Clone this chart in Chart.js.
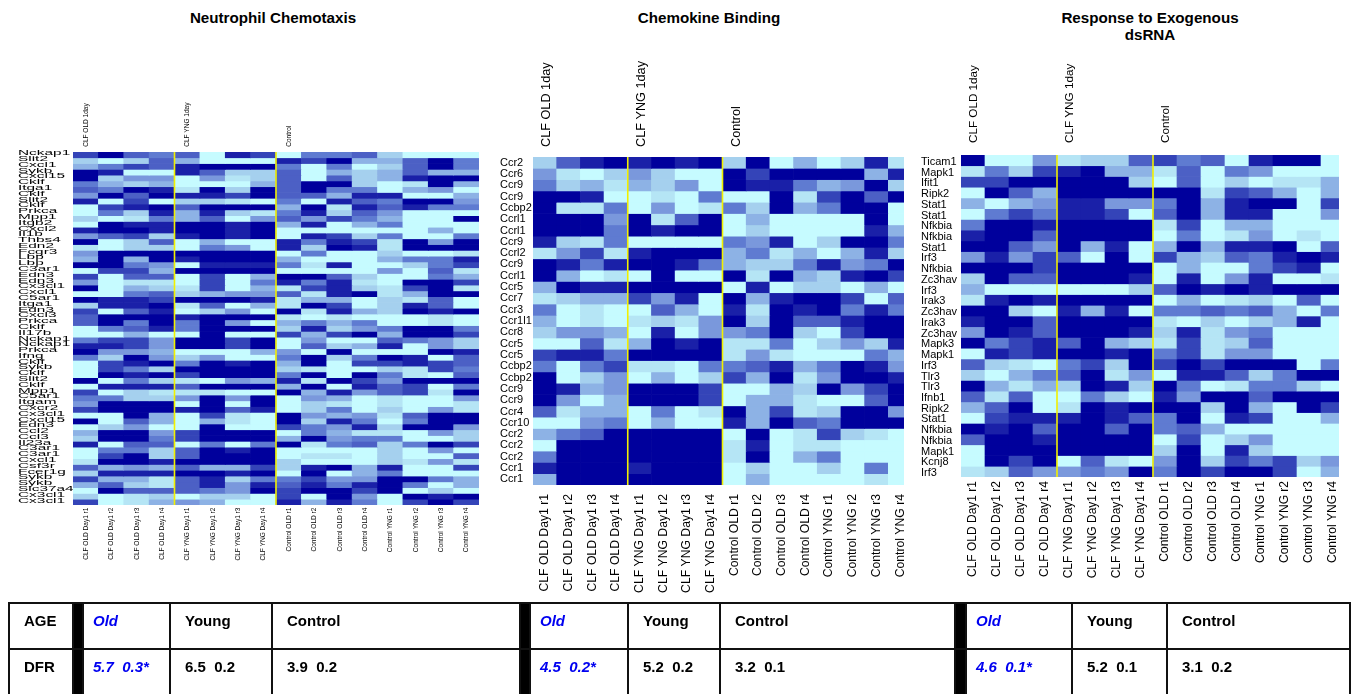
<!DOCTYPE html>
<html>
<head>
<meta charset="utf-8">
<script src="https://cdn.jsdelivr.net/npm/chart.js@4"></script>
<style>
html,body{margin:0;padding:0;background:#fff;width:1355px;height:694px;overflow:hidden;font-family:"Liberation Sans",Arial,sans-serif}
.wrap{position:absolute;overflow:hidden}
canvas{display:block;filter:blur(0.35px)}
.title{position:absolute;font:bold 15.2px/17px "Liberation Sans",Arial,sans-serif;color:#000;text-align:center;width:320px}
table{position:absolute;left:8px;top:602px;border-collapse:collapse;table-layout:fixed;width:1342px;font:bold 15px "Liberation Sans",Arial,sans-serif;color:#000;filter:blur(0.3px)}
td{border:2px solid #111;vertical-align:top;padding:8px 0 0 14px;height:36px;box-sizing:content-box;white-space:pre}
tr:last-child td{border-bottom:2px solid #aaa}
td.bar{background:#000;padding:0}
td.old{color:#0000f0;font-style:italic;padding-left:9px}
</style>
</head>
<body>
<div class="title" style="left:113px;top:9px">Neutrophil Chemotaxis</div>
<div class="title" style="left:549px;top:9px">Chemokine Binding</div>
<div class="title" style="left:990px;top:9px">Response to Exogenous<br>dsRNA</div>
<div class="wrap" style="left:18px;top:90px;width:464px;height:485px"><canvas id="c1" width="464" height="485"></canvas></div>
<div class="wrap" style="left:500px;top:50px;width:404px;height:545px"><canvas id="c2" width="412" height="545"></canvas></div>
<div class="wrap" style="left:921px;top:50px;width:418px;height:540px"><canvas id="c3" width="424" height="540"></canvas></div>
<table id="stats"></table>
<script>
const sampleLabels = ['CLF OLD Day1 r1','CLF OLD Day1 r2','CLF OLD Day1 r3','CLF OLD Day1 r4','CLF YNG Day1 r1','CLF YNG Day1 r2','CLF YNG Day1 r3','CLF YNG Day1 r4','Control OLD r1','Control OLD r2','Control OLD r3','Control OLD r4','Control YNG r1','Control YNG r2','Control YNG r3','Control YNG r4'];
const groupLabels = ['CLF OLD 1day','','','','CLF YNG 1day','','','','Control','','','','','','',''];
const groupBreaks = [4, 8];
const heatColors = ['#c6fbff','#b5e5f5','#a5d0ee','#8db2e5','#7a98dc','#5f7bd1','#4c60c5','#3444b8','#1a20a8','#00009c'];

const neutrophilGenes = ['Nckap1','Slit2','Cxcl1','Sykb','Cxcl15','Cklf','Itga1','Cklf','Slit2','Cklf','Prkca','Mpp1','Itgb2','Cxcl2','Il1b','Thbs4','Edn2','Fcgr3','Lbp','Lbp','C3ar1','Edn3','Edn3','Cx3cl1','Cxcl1','C5ar1','Itga1','Edn3','Cxcl3','Prkca','Cklf','Il17b','Nckap1','Nckap1','Prkca','Ifng','Cklf','Sykb','Cklf','Slit2','Cklf','Mpp1','C5ar1','Itgam','Cxcr2','Cx3cl1','Cxcl15','Edn3','Ccl2','Ccl3','Il23a','C3ar1','C3ar1','Cxcl1','Csf3r','Fcer1g','Sykb','Sykb','Slc37a4','Cx3cl1','Cx3cl1'];
const neutrophilValues = [
[7,9,6,5,6,0,8,7,0,5,5,6,2,0,0,0],
[2,0,2,6,3,0,0,0,8,7,9,3,3,6,9,5],
[3,5,7,6,8,9,9,9,5,0,5,0,2,6,9,5],
[9,8,0,0,8,6,2,2,6,0,3,2,3,6,3,3],
[9,2,4,4,0,4,1,2,6,0,6,2,3,8,9,9],
[5,3,2,3,0,0,0,3,6,9,9,2,0,1,9,3],
[6,5,9,8,1,9,2,9,6,9,5,5,0,3,4,0],
[4,9,6,9,8,8,7,9,6,6,3,8,8,0,0,3],
[8,0,7,0,2,2,1,0,5,0,8,6,5,9,9,4],
[0,7,8,9,6,9,9,9,3,9,1,8,6,8,5,5],
[0,5,2,8,3,8,2,1,5,8,2,6,4,0,0,0],
[2,0,1,5,3,6,0,4,6,4,7,5,3,0,0,9],
[0,9,8,8,9,9,8,9,3,8,0,3,5,0,0,0],
[8,9,9,8,9,9,8,9,0,0,0,0,0,0,3,0],
[4,6,7,2,8,9,8,9,0,8,7,2,5,0,0,5],
[9,0,2,6,0,3,0,0,8,5,8,7,1,9,4,9],
[1,0,2,2,0,5,4,0,8,2,9,8,1,9,9,9],
[4,9,9,9,9,9,9,9,0,5,0,0,2,0,0,1],
[3,9,3,9,8,9,9,9,3,0,0,0,3,5,5,8],
[9,9,5,4,0,8,8,8,5,1,8,0,0,2,5,7],
[0,7,7,3,9,9,9,9,0,0,0,0,4,0,6,1],
[7,0,6,6,0,7,0,3,9,9,6,2,0,0,5,3],
[4,0,1,1,0,7,0,5,8,5,8,1,0,9,9,7],
[9,0,3,2,1,7,0,3,1,7,8,2,1,7,9,1],
[0,0,5,6,2,3,4,4,6,1,8,9,1,3,9,9],
[9,8,8,7,9,9,9,8,1,3,3,0,2,1,6,0],
[2,8,8,9,1,6,0,3,1,9,7,0,2,8,6,0],
[7,0,6,8,0,2,4,0,9,1,8,3,2,9,8,9],
[6,9,9,9,8,9,9,9,1,0,1,0,0,0,1,0],
[6,9,5,9,5,9,4,0,3,5,3,5,0,0,1,0],
[0,5,6,8,5,9,9,9,2,8,2,4,5,9,9,5],
[0,0,3,0,0,9,0,0,7,3,7,9,3,9,9,7],
[5,7,7,4,9,9,7,9,0,4,0,0,6,5,4,2],
[8,8,7,4,9,9,7,9,0,6,2,3,8,0,4,2],
[9,4,4,3,0,0,0,3,4,0,9,0,0,0,9,8],
[5,2,9,4,2,4,0,0,5,9,2,5,9,8,0,6],
[0,7,8,9,5,9,8,9,3,9,0,7,7,8,7,6],
[0,7,5,2,9,9,9,9,2,1,0,0,2,1,7,5],
[0,9,8,9,7,9,9,9,5,9,0,9,5,1,0,6],
[9,0,5,2,1,0,4,3,8,1,9,7,4,9,9,9],
[0,8,8,8,6,9,9,9,3,9,0,8,6,7,0,5],
[7,0,2,1,1,1,0,0,9,3,8,4,6,7,1,9],
[5,5,2,2,4,9,4,9,0,4,3,0,1,0,0,4],
[4,9,9,9,0,9,0,9,0,2,1,0,1,0,0,1],
[7,9,9,9,8,9,6,8,0,2,5,0,2,0,4,1],
[0,0,9,3,0,7,1,0,9,4,3,4,1,6,9,9],
[9,0,6,3,0,3,1,0,9,2,8,5,0,5,9,9],
[0,2,4,0,0,9,0,0,7,5,4,8,2,9,9,4],
[3,9,9,4,7,9,9,9,0,5,3,1,1,0,4,2],
[2,9,9,5,7,9,9,9,3,9,4,5,5,0,0,2],
[8,0,6,6,0,5,0,5,9,1,5,6,2,5,9,7],
[0,5,5,2,6,9,8,9,0,0,0,0,2,0,4,0],
[0,7,9,2,6,9,9,9,0,1,1,0,2,0,0,6],
[1,9,9,8,9,9,9,9,2,0,0,0,2,1,4,1],
[6,3,4,3,6,3,3,7,2,8,9,3,8,0,0,7],
[2,8,8,8,9,9,8,9,0,9,0,3,5,0,0,0],
[7,3,3,1,6,8,2,5,5,7,4,4,9,9,5,3],
[3,6,2,1,6,8,4,8,6,8,5,8,9,5,0,3],
[0,9,6,6,6,5,4,9,7,9,9,7,9,0,2,0],
[2,0,1,2,0,2,2,0,7,0,9,4,0,9,8,9],
[7,0,1,3,4,3,0,0,8,3,8,5,0,7,9,7]
];

const chemokineGenes = ['Ccr2','Ccr6','Ccr9','Ccr9','Ccbp2','Ccrl1','Ccrl1','Ccr9','Ccrl2','Ccr9','Ccrl1','Ccr5','Ccr7','Ccr3','Ccr1l1','Ccr8','Ccr5','Ccr5','Ccbp2','Ccbp2','Ccr9','Ccr9','Ccr4','Ccr10','Ccr2','Ccr2','Ccr2','Ccr1','Ccr1'];
const chemokineValues = [
[2,6,8,9,8,9,8,9,2,9,0,3,0,2,8,1],
[4,1,0,2,4,2,0,0,9,7,9,9,9,9,3,8],
[5,2,3,1,3,2,4,0,9,8,8,5,3,4,9,2],
[9,9,8,0,0,1,0,5,0,0,9,1,7,9,6,9],
[9,1,1,5,0,4,0,1,5,2,9,3,5,9,9,0],
[9,9,9,4,9,1,6,9,0,3,0,0,0,0,9,0],
[9,9,9,5,9,8,9,9,0,2,0,0,0,0,8,3],
[8,2,1,5,0,0,0,0,5,4,8,0,2,9,9,5],
[1,4,7,1,8,9,9,9,3,5,1,3,0,3,8,2],
[9,8,5,8,9,9,8,5,3,2,2,5,8,4,5,9],
[9,3,0,1,0,9,0,0,9,1,9,3,2,8,9,7],
[3,9,8,8,9,9,9,9,0,8,0,2,2,0,3,0],
[1,2,3,3,7,4,8,0,9,3,8,9,9,7,0,6],
[5,0,1,0,0,6,3,0,8,1,9,8,9,5,8,5],
[3,0,1,0,1,2,1,4,9,2,9,6,6,8,9,9],
[2,4,4,3,0,8,0,4,4,5,9,2,0,7,9,9],
[0,0,6,1,3,9,8,9,1,1,5,0,2,4,2,8],
[7,8,8,5,9,9,9,9,1,4,1,0,0,0,5,3],
[5,0,5,7,1,1,0,5,5,6,8,3,5,9,8,4],
[9,0,2,4,0,3,0,2,7,3,9,1,4,9,9,8],
[9,8,3,4,9,9,9,7,0,0,3,2,9,4,7,9],
[9,4,0,3,9,9,9,7,0,3,3,1,0,0,6,9],
[6,1,3,3,0,5,0,1,9,3,7,1,2,9,9,4],
[0,0,4,5,0,3,0,0,8,3,9,6,5,9,9,9],
[3,5,6,9,9,9,9,9,0,9,0,1,7,2,1,0],
[0,9,9,9,9,9,9,9,1,8,0,1,1,0,0,0],
[5,9,9,9,9,9,9,9,1,9,0,3,5,0,0,0],
[8,9,9,9,8,9,9,9,0,2,0,0,2,0,5,0],
[3,9,9,9,9,9,9,9,0,3,0,0,0,0,1,0]
];

const dsrnaGenes = ['Ticam1','Mapk1','Ifit1','Ripk2','Stat1','Stat1','Nfkbia','Nfkbia','Stat1','Irf3','Nfkbia','Zc3hav','Irf3','Irak3','Zc3hav','Irak3','Zc3hav','Mapk3','Mapk1','Irf3','Tlr3','Tlr3','Ifnb1','Ripk2','Stat1','Nfkbia','Nfkbia','Mapk1','Kcnj8','Irf3'];
const dsrnaValues = [
[9,0,0,4,1,2,2,6,7,5,6,0,8,9,9,0],
[1,5,2,7,8,9,3,3,1,6,0,5,4,0,0,0],
[7,7,9,9,9,9,9,2,0,6,0,2,0,1,1,3],
[0,9,6,3,9,9,9,9,9,9,1,7,6,3,0,3],
[3,0,3,4,8,8,4,4,5,9,3,8,9,9,0,7],
[0,5,7,5,8,8,7,0,6,9,3,8,8,0,0,4],
[5,9,9,8,9,9,9,9,1,7,0,3,3,0,0,0],
[8,9,9,6,9,9,9,9,0,5,0,1,4,0,1,0],
[9,9,6,4,9,3,8,0,3,9,3,8,8,9,0,6],
[4,8,4,7,6,0,9,0,7,3,2,6,5,8,9,8],
[9,9,9,7,9,9,9,9,0,3,0,0,5,7,8,0],
[2,9,6,6,9,9,9,8,0,8,0,4,8,0,0,1],
[3,0,0,0,0,0,0,2,6,9,8,9,8,9,9,9],
[1,8,9,8,9,9,9,9,0,3,0,1,2,0,6,0],
[9,9,2,0,8,3,8,0,5,5,6,5,6,3,0,5],
[8,9,9,6,9,9,9,9,1,0,2,0,2,3,8,0],
[4,9,8,6,9,9,9,8,2,8,1,4,5,0,0,0],
[9,5,7,8,6,9,3,2,1,7,1,2,6,0,0,0],
[0,8,7,8,9,9,8,9,5,7,1,4,4,0,0,0],
[6,2,1,0,5,7,2,9,7,9,7,9,9,9,0,5],
[2,0,3,5,6,9,1,4,0,8,8,6,2,5,9,9],
[9,3,1,3,2,9,8,2,9,5,0,1,5,5,2,0],
[6,1,6,0,0,5,2,0,8,4,9,9,6,9,9,9],
[3,6,9,0,1,9,8,9,9,9,2,9,3,0,9,7],
[0,7,8,8,8,9,8,6,5,9,0,8,7,0,0,3],
[9,8,9,6,9,9,6,9,5,6,3,0,0,0,0,0],
[6,9,9,8,9,9,9,9,0,7,0,2,4,0,0,0],
[0,9,9,9,9,9,9,9,2,9,0,8,2,0,0,0],
[0,9,7,9,0,6,1,0,4,9,2,7,5,7,2,4],
[1,2,6,4,4,5,4,9,5,9,7,9,9,7,0,3]
];

const tableAge = ['Old','Young','Control'];
const tableDfr = [['5.7  0.3*','6.5  0.2','3.9  0.2'],['4.5  0.2*','5.2  0.2','3.2  0.1'],['4.6  0.1*','5.2  0.1','3.1  0.2']];

const colWidths = [64,10,87,102,248,10,98,92,235,11,106,95,183];
const tbl = document.getElementById('stats');
tbl.innerHTML = '<colgroup>' + colWidths.map(w => '<col style="width:' + w + 'px">').join('') + '</colgroup>';
function makeRow(head, cells) {
  let html = '<tr><td>' + head + '</td>';
  cells.forEach(g => {
    html += '<td class="bar"></td><td class="old">' + g[0] + '</td><td>' + g[1] + '</td><td>' + g[2] + '</td>';
  });
  return html + '</tr>';
}
tbl.innerHTML += makeRow('AGE', [tableAge, tableAge, tableAge]) + makeRow('DFR', tableDfr);

const breakLines = {
  id: 'breakLines',
  afterDatasetsDraw(chart) {
    const { ctx, chartArea: a, scales: { x } } = chart;
    ctx.save();
    ctx.strokeStyle = '#f2f000';
    ctx.lineWidth = 1.6;
    groupBreaks.forEach(b => {
      const px = x.getPixelForValue(b - 0.5);
      ctx.beginPath(); ctx.moveTo(px, a.top); ctx.lineTo(px, a.bottom); ctx.stroke();
    });
    ctx.restore();
  }
};

function noPad(s) { s.paddingLeft = s.paddingRight = s.paddingTop = s.paddingBottom = 0; }

// Draw a scale's own tick labels through a small canvas transform.
function warpLabels(s, transform) {
  s.drawLabels = function (area) {
    const ctx = this.ctx;
    ctx.save();
    transform(ctx, this);
    Object.getPrototypeOf(this).drawLabels.call(this, area);
    ctx.restore();
  };
}

function heatmap(id, genes, values, o) {
  const datasets = values.map((row, i) => ({
    data: row.map((v, j) => ({ x: sampleLabels[j], y: [i, i + 1], v })),
    backgroundColor: c => heatColors[c.raw ? c.raw.v : 0],
    xAxisID: 'x', yAxisID: 'y',
    grouped: false, barPercentage: 1, categoryPercentage: 1, borderWidth: 0
  }));
  new Chart(document.getElementById(id), {
    type: 'bar',
    data: { labels: sampleLabels, datasets },
    plugins: [breakLines],
    options: {
      responsive: false, animation: false, events: [],
      layout: { autoPadding: false, padding: { right: o.padRight, left: 0, top: 0, bottom: 0 } },
      plugins: { legend: { display: false }, tooltip: { enabled: false }, title: { display: false } },
      scales: {
        x: {
          type: 'category', position: 'bottom', offset: true,
          grid: { display: false, drawTicks: false }, border: { display: false },
          ticks: { autoSkip: false, minRotation: 90, maxRotation: 90, padding: o.botPad, color: '#000', font: { family: 'Liberation Sans', size: o.botFont } },
          afterFit: s => {
            s.height = o.botH; noPad(s);
            warpLabels(s, (ctx, sc) => { ctx.translate(0, sc.top); ctx.scale(1, o.squash); ctx.translate(0, -sc.top); });
          }
        },
        x2: {
          type: 'category', position: 'top', offset: true, labels: groupLabels,
          grid: { display: false, drawTicks: false }, border: { display: false },
          ticks: { autoSkip: false, minRotation: 90, maxRotation: 90, padding: o.topPad, color: '#000', font: { family: 'Liberation Sans', size: o.topFont } },
          afterFit: s => {
            s.height = o.topH; noPad(s);
            warpLabels(s, (ctx, sc) => {
              ctx.translate(o.topFont * 1.2 + o.topShift, sc.bottom);
              ctx.scale(1, o.squash);
              ctx.translate(0, -sc.bottom);
            });
          }
        },
        y: {
          type: 'linear', position: 'left', reverse: true, min: 0, max: genes.length,
          grid: { display: false, drawTicks: false }, border: { display: false },
          afterBuildTicks: s => { s.ticks = genes.map((g, i) => ({ value: i + 0.5 })); },
          ticks: { autoSkip: false, crossAlign: 'far', padding: 2, color: '#000', font: { family: 'Liberation Sans', size: o.geneFont }, callback: (v, i) => genes[i] },
          afterFit: s => {
            s.width = o.geneW; noPad(s);
            warpLabels(s, (ctx, sc) => {
              ctx.translate(sc.left, o.geneShift);
              ctx.scale(o.stretch, 1);
              ctx.translate(-sc.left, 0);
            });
          }
        }
      }
    }
  });
}

heatmap('c1', neutrophilGenes, neutrophilValues, { padRight: 3, geneW: 55, topH: 62, botH: 70, botPad: 3, topPad: 6, botFont: 7.5, topFont: 7.5, geneFont: 7, stretch: 2.2, topShift: 0, squash: 0.87, geneShift: -1.5 });
heatmap('c2', chemokineGenes, chemokineValues, { padRight: 0, geneW: 33, topH: 107, botH: 110, botPad: 9, topPad: 10, botFont: 12.2, topFont: 12.7, geneFont: 11, stretch: 1, topShift: 2, squash: 1, geneShift: 0 });
heatmap('c3', dsrnaGenes, dsrnaValues, { padRight: 0, geneW: 40, topH: 105, botH: 113, botPad: 4, topPad: 12, botFont: 12, topFont: 11.7, geneFont: 11, stretch: 1, topShift: 1, squash: 1, geneShift: 1.5 });
</script>
</body>
</html>
